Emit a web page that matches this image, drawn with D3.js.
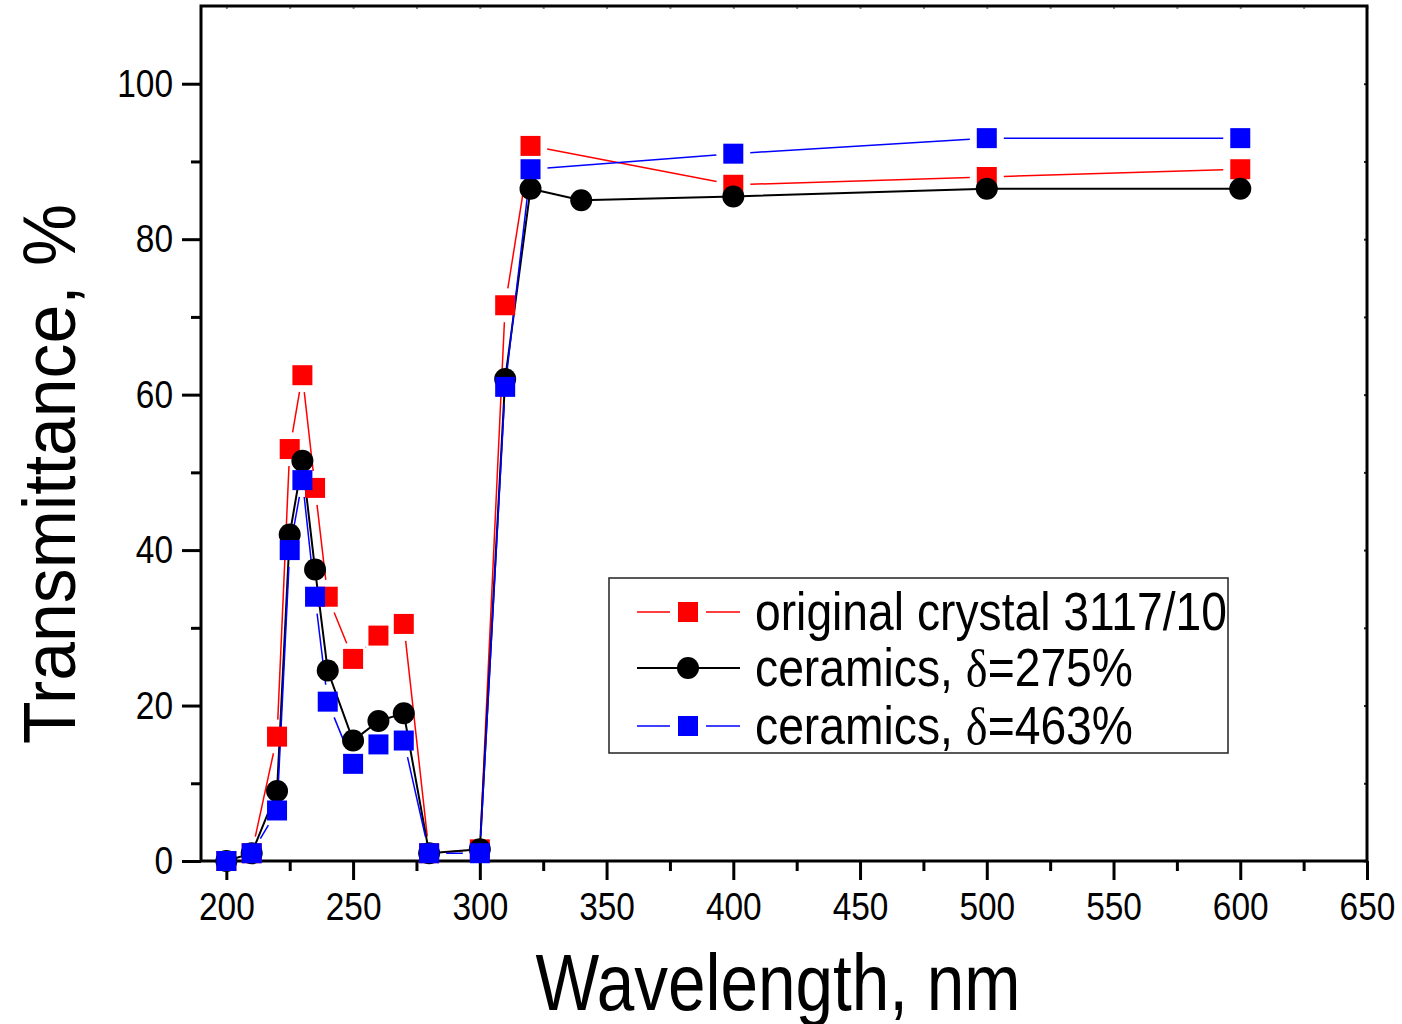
<!DOCTYPE html>
<html>
<head>
<meta charset="utf-8">
<script src="https://cdn.jsdelivr.net/npm/d3@7"></script>
<style>
  html, body { margin: 0; padding: 0; background: #fff; }
  svg { display: block; }
</style>
</head>
<body>
<div id="chart"></div>
<script>
// data
var seriesNames = ["original crystal 3117/10", "ceramics, \u03b4=275%", "ceramics, \u03b4=463%"];

var crystalX = [200, 210, 220, 225, 230, 235, 240, 250, 260, 270, 280, 300, 310, 320, 400, 500, 600];
var crystalY = [0, 1, 16, 53, 62.5, 48, 34, 26, 29, 30.5, 1, 1.5, 71.5, 92, 87, 88, 89];

var cer275X = [200, 210, 220, 225, 230, 235, 240, 250, 260, 270, 280, 300, 310, 320, 340, 400, 500, 600];
var cer275Y = [0, 1, 9, 42, 51.5, 37.5, 24.5, 15.5, 18, 19, 1, 1.5, 62, 86.5, 85, 85.5, 86.5, 86.5];

var cer463X = [200, 210, 220, 225, 230, 235, 240, 250, 260, 270, 280, 300, 310, 320, 400, 500, 600];
var cer463Y = [0, 1, 6.5, 40, 49, 34, 20.5, 12.5, 15, 15.5, 1, 1, 61, 89, 91, 93, 93];

var xMajor = [200, 250, 300, 350, 400, 450, 500, 550, 600, 650];
var xMinor = [225, 275, 325, 375, 425, 475, 525, 575, 625];
var yMajor = [0, 20, 40, 60, 80, 100];
var yMinor = [10, 30, 50, 70, 90];

var width = 1402, height = 1024;
var margin = {top: 6, left: 201, right: 35, bottom: 163};
var w = width - margin.left - margin.right;
var h = height - margin.top - margin.bottom;
var font = "'Liberation Sans', Arial, Helvetica, sans-serif";

var x = d3.scaleLinear().domain([190, 650]).range([margin.left, margin.left + w]);
var y = d3.scaleLinear().domain([0, 110]).range([margin.top + h, margin.top]);

var svg = d3.select("#chart").append("svg")
    .attr("width", width)
    .attr("height", height);

// axes
function styleAxis(g) {
  g.select(".domain").remove();
  g.selectAll(".tick line").attr("stroke", "#000").attr("stroke-width", 3);
}

var gx = svg.append("g")
    .attr("transform", "translate(0," + (margin.top + h) + ")")
    .call(d3.axisBottom(x).tickValues(xMajor).tickSize(19).tickPadding(12));
styleAxis(gx);
gx.selectAll(".tick text")
    .attr("font-family", font)
    .attr("font-size", "39px")
    .attr("fill", "#000")
    .attr("textLength", function (d) { return String(d).length * 18.6; })
    .attr("lengthAdjust", "spacingAndGlyphs");
svg.append("g")
    .attr("transform", "translate(0," + (margin.top + h) + ")")
    .call(d3.axisBottom(x).tickValues(xMinor).tickSize(10).tickFormat(""))
    .call(styleAxis);

var gy = svg.append("g")
    .attr("transform", "translate(" + margin.left + ",0)")
    .call(d3.axisLeft(y).tickValues(yMajor).tickSize(19).tickPadding(9));
styleAxis(gy);
gy.selectAll(".tick text")
    .attr("font-family", font)
    .attr("font-size", "39px")
    .attr("fill", "#000")
    .attr("textLength", function (d) { return String(d).length * 18.6; })
    .attr("lengthAdjust", "spacingAndGlyphs");
svg.append("g")
    .attr("transform", "translate(" + margin.left + ",0)")
    .call(d3.axisLeft(y).tickValues(yMinor).tickSize(10).tickFormat(""))
    .call(styleAxis);

// small inner ticks on top and right
svg.append("g")
    .attr("transform", "translate(0," + margin.top + ")")
    .call(d3.axisBottom(x).tickValues(xMajor.concat(xMinor)).tickSize(3).tickFormat(""))
    .call(styleAxis)
    .selectAll(".tick line").attr("stroke", "#888").attr("stroke-width", 2);
svg.append("g")
    .attr("transform", "translate(" + (margin.left + w) + ",0)")
    .call(d3.axisLeft(y).tickValues(yMajor.concat(yMinor)).tickSize(3).tickFormat(""))
    .call(styleAxis)
    .selectAll(".tick line").attr("stroke", "#222").attr("stroke-width", 2);

// frame
svg.append("rect")
    .attr("x", margin.left)
    .attr("y", margin.top)
    .attr("width", w)
    .attr("height", h)
    .attr("fill", "none")
    .attr("stroke", "#000")
    .attr("stroke-width", 3);

// axis titles
svg.append("text")
    .attr("x", 778)
    .attr("y", 1010)
    .attr("text-anchor", "middle")
    .attr("font-family", font)
    .attr("font-size", "79px")
    .attr("textLength", 485)
    .attr("lengthAdjust", "spacingAndGlyphs")
    .text("Wavelength, nm");

svg.append("text")
    .attr("transform", "translate(75,474) rotate(-90)")
    .attr("text-anchor", "middle")
    .attr("font-family", font)
    .attr("font-size", "75px")
    .attr("textLength", 540)
    .attr("lengthAdjust", "spacingAndGlyphs")
    .text("Transmittance, %");

// series
var series = [
  {xs: crystalX, ys: crystalY, color: "#ff0000", shape: "square", gap: 17, lw: 1.5},
  {xs: cer275X, ys: cer275Y, color: "#000000", shape: "circle", gap: 0, lw: 2},
  {xs: cer463X, ys: cer463Y, color: "#0000ff", shape: "square", gap: 17, lw: 1.5}
];

series.forEach(function (s) {
  var pts = s.xs.map(function (v, i) { return [x(v), y(s.ys[i])]; });
  var g = svg.append("g");
  if (s.gap === 0) {
    g.append("path")
      .attr("d", d3.line()(pts))
      .attr("fill", "none")
      .attr("stroke", s.color)
      .attr("stroke-width", s.lw);
  } else {
    // line segments stop short of the markers
    for (var i = 1; i < pts.length; i++) {
      var dx = pts[i][0] - pts[i - 1][0], dy = pts[i][1] - pts[i - 1][1];
      var len = Math.sqrt(dx * dx + dy * dy);
      if (len <= 2 * s.gap) continue;
      var ux = dx / len, uy = dy / len;
      g.append("line")
        .attr("x1", pts[i - 1][0] + ux * s.gap)
        .attr("y1", pts[i - 1][1] + uy * s.gap)
        .attr("x2", pts[i][0] - ux * s.gap)
        .attr("y2", pts[i][1] - uy * s.gap)
        .attr("stroke", s.color)
        .attr("stroke-width", s.lw);
    }
  }
  s.pts = pts;
});

series.forEach(function (s) {
  var g = svg.append("g");
  if (s.shape === "circle") {
    g.selectAll("circle").data(s.pts).enter().append("circle")
      .attr("cx", function (d) { return d[0]; })
      .attr("cy", function (d) { return d[1]; })
      .attr("r", 11)
      .attr("fill", s.color);
  } else {
    g.selectAll("rect").data(s.pts).enter().append("rect")
      .attr("x", function (d) { return d[0] - 10; })
      .attr("y", function (d) { return d[1] - 10; })
      .attr("width", 20)
      .attr("height", 20)
      .attr("fill", s.color);
  }
});

// legend
var legend = svg.append("g");
legend.append("rect")
    .attr("x", 609)
    .attr("y", 578)
    .attr("width", 619)
    .attr("height", 175)
    .attr("fill", "#fff")
    .attr("stroke", "#222")
    .attr("stroke-width", 1.5);

var rowY = [612, 668, 726];
var textLen = [472, 378, 378];
series.forEach(function (s, i) {
  var cy = rowY[i];
  if (s.gap === 0) {
    legend.append("line").attr("x1", 637).attr("x2", 740).attr("y1", cy).attr("y2", cy)
      .attr("stroke", s.color).attr("stroke-width", s.lw);
    legend.append("circle").attr("cx", 688).attr("cy", cy).attr("r", 11).attr("fill", s.color);
  } else {
    legend.append("line").attr("x1", 637).attr("x2", 670).attr("y1", cy).attr("y2", cy)
      .attr("stroke", s.color).attr("stroke-width", s.lw);
    legend.append("line").attr("x1", 706).attr("x2", 740).attr("y1", cy).attr("y2", cy)
      .attr("stroke", s.color).attr("stroke-width", s.lw);
    legend.append("rect").attr("x", 678).attr("y", cy - 10).attr("width", 20).attr("height", 20)
      .attr("fill", s.color);
  }
  var t = legend.append("text")
      .attr("x", 755)
      .attr("y", cy + 18)
      .attr("font-family", font)
      .attr("font-size", "53px")
      .attr("fill", "#000")
      .attr("textLength", textLen[i])
      .attr("lengthAdjust", "spacingAndGlyphs");
  var name = seriesNames[i];
  var k = name.indexOf("\u03b4");
  if (k < 0) {
    t.text(name);
  } else {
    t.append("tspan").text(name.slice(0, k));
    t.append("tspan").attr("font-family", "'Liberation Serif', 'Times New Roman', serif").text("\u03b4");
    t.append("tspan").text(name.slice(k + 1));
  }
});
</script>
</body>
</html>
